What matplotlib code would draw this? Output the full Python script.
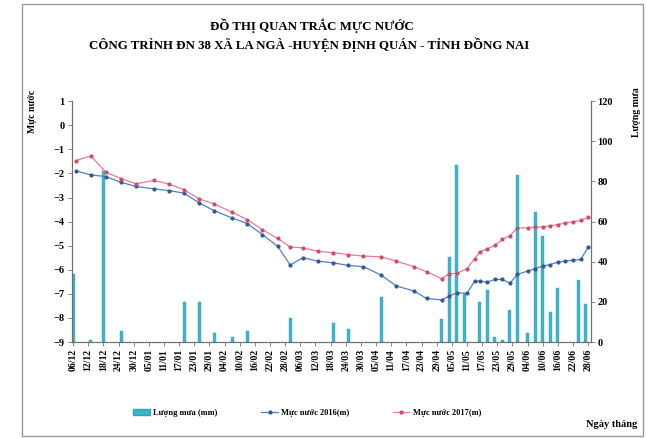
import matplotlib
matplotlib.use("Agg")
import matplotlib.pyplot as plt
from matplotlib.lines import Line2D
from matplotlib.patches import Patch, Rectangle

# -- data (days counted from 06/12) ------------------------------------------

tick_labels = ["06/12", "12/12", "18/12", "24/12", "30/12", "05/01", "11/01",
               "17/01", "23/01", "29/01", "04/02", "10/02", "16/02", "22/02",
               "28/02", "06/03", "12/03", "18/03", "24/03", "30/03", "05/04",
               "11/04", "17/04", "23/04", "29/04", "05/05", "11/05", "17/05",
               "23/05", "29/05", "04/06", "10/06", "16/06", "22/06", "28/06"]

level_days = [1, 7, 13, 19, 25, 32, 38, 44, 50, 56, 63, 69, 75, 81, 86, 91,
              97, 103, 109, 115, 122, 128, 135, 140, 146, 149, 152, 156, 159,
              161, 164, 167, 170, 173, 176, 180, 183, 186, 189, 192, 195, 198,
              201, 204]

level_2016 = [-1.89, -2.06, -2.13, -2.37, -2.54, -2.64, -2.71, -2.82, -3.23,
              -3.55, -3.85, -4.08, -4.54, -5.02, -5.80, -5.50, -5.64, -5.71,
              -5.82, -5.87, -6.22, -6.67, -6.88, -7.19, -7.25, -7.09, -6.95,
              -6.98, -6.47, -6.47, -6.51, -6.40, -6.40, -6.56, -6.19, -6.05,
              -5.95, -5.85, -5.78, -5.68, -5.64, -5.60, -5.57, -5.06]

level_2017 = [-1.47, -1.27, -1.95, -2.22, -2.43, -2.29, -2.44, -2.68, -3.06,
              -3.27, -3.61, -3.92, -4.33, -4.70, -5.05, -5.09, -5.23, -5.29,
              -5.37, -5.43, -5.46, -5.64, -5.87, -6.08, -6.37, -6.16, -6.15,
              -5.95, -5.54, -5.27, -5.13, -4.99, -4.74, -4.58, -4.26, -4.26,
              -4.22, -4.22, -4.17, -4.12, -4.05, -4.01, -3.95, -3.82]

rain_days = [0, 7, 12, 19, 44, 50, 56, 63, 69, 86, 103, 109, 122, 146, 149,
             152, 155, 161, 164, 167, 170, 173, 176, 180, 183, 186, 189, 192,
             200, 203]
rain_mm = [34, 1, 85, 5.6, 20, 20, 4.3, 2.6, 5.5, 11.8, 9.6, 6.3, 22.5, 11.4,
           42.4, 88, 24, 19.8, 26, 2.6, 1, 15.9, 83, 4.6, 65, 53, 15, 26.7,
           30.8, 19]

# -- figure ------------------------------------------------------------------

serif = "Liberation Serif"
blue, blue_dot = "#4f7fcc", "#34588f"
pink, pink_dot = "#f27892", "#cc4d68"
bar_c, bar_e = "#3db5c6", "#2fa3c0"

fig = plt.figure(figsize=(6.47, 4.38), dpi=100)
fig.patches.append(Rectangle((22 / 647, 0.005), 621 / 647, 0.985,
                             transform=fig.transFigure, fill=False,
                             edgecolor="#9a9a9a", lw=1.0))

ax = fig.add_axes([0.111, 0.219, 0.802, 0.550])
ax2 = ax.twinx()
ax.set_zorder(ax2.get_zorder() + 1)
ax.patch.set_visible(False)

ax2.bar(rain_days, rain_mm, width=1.2, color=bar_c, edgecolor=bar_e,
        linewidth=0.3)
ax2.set_ylim(0, 120)
ax2.set_yticks(range(0, 121, 20))

ax.plot(level_days, level_2016, color=blue, lw=0.9, marker="o", ms=2.0,
        mfc=blue_dot, mec=blue_dot)
ax.plot(level_days, level_2017, color=pink, lw=0.9, marker="o", ms=2.0,
        mfc=pink_dot, mec=pink_dot)
ax.set_ylim(-9, 1)
ax.set_yticks(range(-9, 2))
ax.set_xlim(-0.5, 205)
ax.set_xticks(range(0, 205, 6))
ax.set_xticklabels(tick_labels, rotation=90)

for a in (ax, ax2):
    a.spines["top"].set_visible(False)
    for s in a.spines.values():
        s.set_color("#707070")
        s.set_linewidth(0.8)
    a.tick_params(length=3, width=0.6, color="#707070", pad=2)
    for lab in a.get_xticklabels() + a.get_yticklabels():
        lab.set_fontfamily(serif)
        lab.set_fontweight("bold")
        lab.set_fontsize(7.5)
for lab in ax.get_xticklabels():
    lab.set_fontsize(7)

# -- text --------------------------------------------------------------------

fig.text(0.482, 0.942, "ĐỒ THỊ QUAN TRẮC MỰC NƯỚC", ha="center", va="center",
         family=serif, weight="bold", fontsize=9.3)
fig.text(0.478, 0.897,
         "CÔNG TRÌNH ĐN 38 XÃ LA NGÀ -HUYỆN ĐỊNH QUÁN - TỈNH ĐỒNG NAI",
         ha="center", va="center", family=serif, weight="bold", fontsize=9.3)
fig.text(0.050, 0.745, "Mực nước", rotation=90, ha="center", va="center",
         family=serif, weight="bold", fontsize=7)
fig.text(0.984, 0.745, "Lượng mưa", rotation=90, ha="center", va="center",
         family=serif, weight="bold", fontsize=7)
fig.text(0.945, 0.030, "Ngày tháng", ha="center", va="center",
         family=serif, weight="bold", fontsize=7.5)

handles = [
    Patch(facecolor=bar_c, edgecolor=bar_e),
    Line2D([], [], color=blue, lw=0.9, marker="o", ms=2.0,
           mfc=blue_dot, mec=blue_dot),
    Line2D([], [], color=pink, lw=0.9, marker="o", ms=2.0,
           mfc=pink_dot, mec=pink_dot),
]
labels = ["Lượng mưa (mm)", "Mực nước 2016(m)", "Mực nước 2017(m)"]
fig.legend(handles, labels, loc="center", bbox_to_anchor=(0.475, 0.057),
           ncol=3, frameon=False, columnspacing=5.2, handlelength=2,
           handletextpad=0.4, prop={"family": serif, "weight": "bold",
                                    "size": 6})

fig.savefig("out.png", dpi=100)
